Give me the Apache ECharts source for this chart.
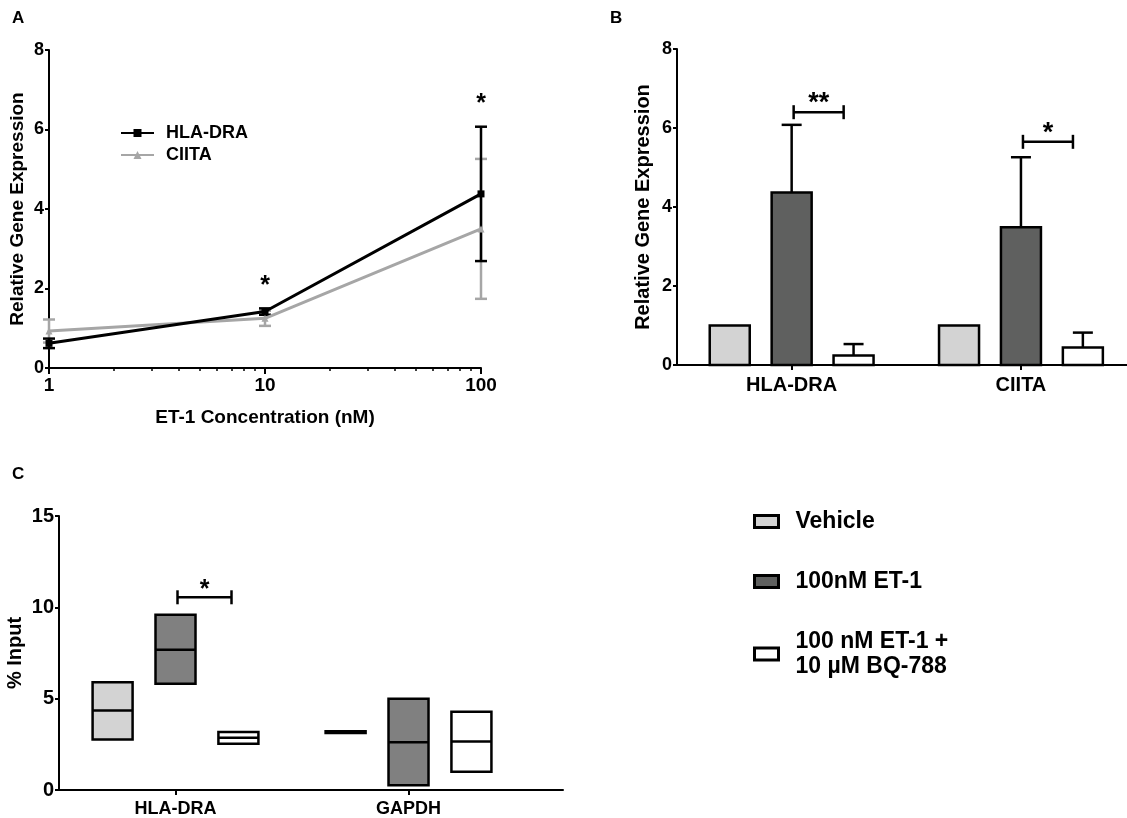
<!DOCTYPE html>
<html><head><meta charset="utf-8">
<script src="https://cdn.jsdelivr.net/npm/echarts@6/dist/echarts.min.js"></script>
<style>html,body{margin:0;padding:0;background:#fff}#c{width:1127px;height:818px}</style>
</head><body><div id="c"></div>
<script>
const FONT = '"Liberation Sans", Arial, Helvetica, sans-serif';

// ---------- Panel A: dose response ----------
const concentrations = [1, 10, 100];
const hlaLineMean = [0.62, 1.42, 4.38];
const hlaLineErr = [0.12, 0.08, 1.69];
const ciitaLineMean = [0.93, 1.25, 3.50];
const ciitaLineErr = [0.29, 0.19, 1.76];
const lineSig = ['', '*', '*'];
const yTicksA = [0, 2, 4, 6, 8];
const xMajorTicksA = [1, 10, 100];
const xMinorTicksA = [2, 3, 4, 5, 6, 7, 8, 9, 20, 30, 40, 50, 60, 70, 80, 90];

// ---------- Panel B: relative expression bars ----------
const geneCategories = ['HLA-DRA', 'CIITA'];
const treatments = ['Vehicle', '100nM ET-1', '100 nM ET-1 +\n10 µM BQ-788'];
const vehicleExpr = [1.0, 1.0];
const vehicleExprErr = [0, 0];
const et1Expr = [4.37, 3.49];
const et1ExprErr = [1.71, 1.77];
const bqExpr = [0.24, 0.44];
const bqExprErr = [0.29, 0.38];
const exprSigLabels = ['**', '*'];
const exprSigLevel = [6.4, 5.65];
const yTicksB = [0, 2, 4, 6, 8];

// ---------- Panel C: ChIP % input (min / mean / max) ----------
const chipCategories = ['HLA-DRA', 'GAPDH'];
const vehicleChipMin = [2.77, 3.12];
const vehicleChipMean = [4.35, 3.17];
const vehicleChipMax = [5.90, 3.22];
const et1ChipMin = [5.81, 0.26];
const et1ChipMean = [7.68, 2.62];
const et1ChipMax = [9.60, 4.99];
const bqChipMin = [2.53, 1.00];
const bqChipMean = [2.86, 2.66];
const bqChipMax = [3.17, 4.28];
const chipSigLabels = ['*', ''];
const chipSigLevel = [10.55, null];
const yTicksC = [0, 5, 10, 15];

const treatmentColors = ['#d3d3d3', '#5f605f', '#ffffff'];
const chipColors = ['#d3d3d3', '#808080', '#ffffff'];
const groupOffset = [-0.27, 0, 0.27];

const bold = { fontFamily: FONT, fontWeight: 'bold', color: '#000' };

function errRender(params, api) {
  const x = api.value(0), m = api.value(1), e = api.value(2);
  const t = api.coord([x, m + e]), b = api.coord([x, m - e]);
  const col = api.visual('color');
  const st = { stroke: col, lineWidth: 2.5 };
  return { type: 'group', children: [
    { type: 'line', shape: { x1: t[0], y1: t[1], x2: b[0], y2: b[1] }, style: st },
    { type: 'line', shape: { x1: t[0] - 6, y1: t[1], x2: t[0] + 6, y2: t[1] }, style: st },
    { type: 'line', shape: { x1: b[0] - 6, y1: b[1], x2: b[0] + 6, y2: b[1] }, style: st }
  ]};
}

function barRender(offset) {
  return function (params, api) {
    const x = api.value(0) + offset, v = api.value(1), e = api.value(2);
    const base = api.coord([x, 0]), top = api.coord([x, v]);
    const ch = [];
    if (e > 0) {
      const et = api.coord([x, v + e]);
      ch.push({ type: 'line', shape: { x1: top[0], y1: top[1], x2: et[0], y2: et[1] }, style: { stroke: '#000', lineWidth: 2.5 } });
      ch.push({ type: 'line', shape: { x1: et[0] - 10, y1: et[1], x2: et[0] + 10, y2: et[1] }, style: { stroke: '#000', lineWidth: 2.5 } });
    }
    ch.push({ type: 'rect', shape: { x: base[0] - 20, y: top[1], width: 40, height: base[1] - top[1] },
      style: { fill: api.visual('color'), stroke: '#000', lineWidth: 2.5 } });
    return { type: 'group', children: ch };
  };
}

function boxRender(offset) {
  return function (params, api) {
    const x = api.value(0) + offset;
    const lo = api.coord([x, api.value(1)]), mid = api.coord([x, api.value(2)]), hi = api.coord([x, api.value(3)]);
    return { type: 'group', children: [
      { type: 'rect', shape: { x: lo[0] - 20, y: hi[1], width: 40, height: lo[1] - hi[1] },
        style: { fill: api.visual('color'), stroke: '#000', lineWidth: 2.5 } },
      { type: 'line', shape: { x1: mid[0] - 20, y1: mid[1], x2: mid[0] + 20, y2: mid[1] }, style: { stroke: '#000', lineWidth: 2.5 } }
    ]};
  };
}

function sigRender(labels, spanPx, fontSize) {
  return function (params, api) {
    const i = params.dataIndex;
    const p = api.coord([api.value(0), api.value(1)]);
    const x1 = p[0] + 2, x2 = p[0] + 2 + spanPx, y = p[1];
    const st = { stroke: '#000', lineWidth: 2.5 };
    return { type: 'group', children: [
      { type: 'line', shape: { x1: x1, y1: y, x2: x2, y2: y }, style: st },
      { type: 'line', shape: { x1: x1, y1: y - 7, x2: x1, y2: y + 7 }, style: st },
      { type: 'line', shape: { x1: x2, y1: y - 7, x2: x2, y2: y + 7 }, style: st },
      { type: 'text', style: { x: (x1 + x2) / 2, y: y + 5, text: labels[i], fill: '#000',
        font: 'bold ' + fontSize + 'px ' + FONT, textAlign: 'center', textVerticalAlign: 'bottom' } }
    ]};
  };
}

function starRender(params, api) {
  const i = params.dataIndex;
  const p = api.coord([api.value(0), api.value(1) + api.value(2)]);
  return { type: 'text', style: { x: p[0], y: p[1] - 10, text: lineSig[i], fill: '#000',
    font: 'bold 25px ' + FONT, textAlign: 'center', textVerticalAlign: 'bottom' } };
}

const axisLineSt = { show: true, onZero: false, lineStyle: { color: '#000', width: 2 } };
const tickSt = { show: true, length: 4, lineStyle: { color: '#000', width: 2 } };

const option = {
  animation: false,
  backgroundColor: '#fff',
  title: [
    { text: 'A', left: 12, top: 10, padding: 0, textStyle: Object.assign({ fontSize: 17 }, bold) },
    { text: 'B', left: 610, top: 10, padding: 0, textStyle: Object.assign({ fontSize: 17 }, bold) },
    { text: 'C', left: 12, top: 466, padding: 0, textStyle: Object.assign({ fontSize: 17 }, bold) }
  ],
  legend: [
    { data: ['HLA-DRA', 'CIITA'], orient: 'vertical', left: 120, top: 123, padding: 0, itemWidth: 33, itemHeight: 10,
      itemGap: 2, textStyle: Object.assign({ fontSize: 18, lineHeight: 20, padding: [0, 0, 0, 7] }, bold) },
    { data: treatments.map((t, k) => ({ name: t, icon: 'rect',
        itemStyle: { color: treatmentColors[k], borderColor: '#000', borderWidth: 3 } })),
      orient: 'vertical', left: 753, top: 509, padding: 0, itemWidth: 24, itemHeight: 12, itemGap: 35,
      textStyle: Object.assign({ fontSize: 23, lineHeight: 25, padding: [0, 0, 0, 12] }, bold) }
  ],
  grid: [
    { left: 49, top: 50, width: 432, height: 318 },
    { left: 677, top: 49, width: 450, height: 316 },
    { left: 59, top: 516, width: 504, height: 275 }
  ],
  xAxis: [
    { gridIndex: 0, type: 'log', logBase: 10, min: 1, max: 100, position: 'bottom', axisLine: axisLineSt,
      axisTick: Object.assign({ customValues: xMajorTicksA }, tickSt, { length: 6 }),
      axisLabel: Object.assign({ customValues: xMajorTicksA, fontSize: 19, margin: 8 }, bold),
      splitLine: { show: false }, minorTick: { show: false },
      name: 'ET-1 Concentration (nM)', nameLocation: 'middle', nameGap: 40,
      nameTextStyle: Object.assign({ fontSize: 19 }, bold) },
    { gridIndex: 0, type: 'log', logBase: 10, min: 1, max: 100, position: 'bottom', offset: 0,
      axisLine: { show: false, onZero: false },
      axisTick: { show: true, customValues: xMinorTicksA, length: 3, lineStyle: { color: '#000', width: 1.5 } },
      axisLabel: { show: false }, splitLine: { show: false } },
    { gridIndex: 1, type: 'value', min: -0.5, max: 1.4625, position: 'bottom', axisLine: axisLineSt,
      axisTick: Object.assign({ customValues: [0, 1] }, tickSt, { length: 5 }),
      axisLabel: Object.assign({ customValues: [0, 1], fontSize: 20, margin: 10,
        formatter: v => geneCategories[Math.round(v)] }, bold),
      splitLine: { show: false } },
    { gridIndex: 2, type: 'value', min: -0.5, max: 1.663, position: 'bottom', axisLine: axisLineSt,
      axisTick: Object.assign({ customValues: [0, 1] }, tickSt, { length: 5 }),
      axisLabel: Object.assign({ customValues: [0, 1], fontSize: 18, margin: 10,
        formatter: v => chipCategories[Math.round(v)] }, bold),
      splitLine: { show: false } }
  ],
  yAxis: [
    { gridIndex: 0, type: 'value', min: 0, max: 8, interval: 2, position: 'left', axisLine: axisLineSt, axisTick: tickSt,
      axisLabel: Object.assign({ fontSize: 18, margin: 5 }, bold), splitLine: { show: false },
      name: 'Relative Gene Expression', nameLocation: 'middle', nameGap: 22,
      nameTextStyle: Object.assign({ fontSize: 19 }, bold) },
    { gridIndex: 1, type: 'value', min: 0, max: 8, interval: 2, position: 'left', axisLine: axisLineSt, axisTick: tickSt,
      axisLabel: Object.assign({ fontSize: 18, margin: 5 }, bold), splitLine: { show: false },
      name: 'Relative Gene Expression', nameLocation: 'middle', nameGap: 24,
      nameTextStyle: Object.assign({ fontSize: 20 }, bold) },
    { gridIndex: 2, type: 'value', min: 0, max: 15, interval: 5, position: 'left', axisLine: axisLineSt, axisTick: tickSt,
      axisLabel: Object.assign({ fontSize: 20, margin: 5 }, bold), splitLine: { show: false },
      name: '% Input', nameLocation: 'middle', nameGap: 34,
      nameTextStyle: Object.assign({ fontSize: 20 }, bold) }
  ],
  series: [
    // Panel A
    { name: 'CIITA', type: 'line', xAxisIndex: 0, yAxisIndex: 0, color: '#a6a6a6',
      data: concentrations.map((c, i) => [c, ciitaLineMean[i]]),
      symbol: 'triangle', symbolSize: 7, lineStyle: { width: 3, color: '#a6a6a6' }, itemStyle: { color: '#a6a6a6' } },
    { name: 'CIITA err', type: 'custom', xAxisIndex: 0, yAxisIndex: 0, color: '#a6a6a6', renderItem: errRender,
      data: concentrations.map((c, i) => [c, ciitaLineMean[i], ciitaLineErr[i]]), clip: false },
    { name: 'HLA-DRA', type: 'line', xAxisIndex: 0, yAxisIndex: 0, color: '#000',
      data: concentrations.map((c, i) => [c, hlaLineMean[i]]),
      symbol: 'rect', symbolSize: 7, lineStyle: { width: 3, color: '#000' }, itemStyle: { color: '#000' } },
    { name: 'HLA-DRA err', type: 'custom', xAxisIndex: 0, yAxisIndex: 0, color: '#000', renderItem: errRender,
      data: concentrations.map((c, i) => [c, hlaLineMean[i], hlaLineErr[i]]), clip: false },
    { name: 'sigA', type: 'custom', xAxisIndex: 0, yAxisIndex: 0, renderItem: starRender, clip: false,
      data: concentrations.map((c, i) => [c, hlaLineMean[i], hlaLineErr[i]]) },
    // Panel B
    { name: treatments[0], type: 'custom', xAxisIndex: 2, yAxisIndex: 1, color: treatmentColors[0],
      renderItem: barRender(groupOffset[0]), data: vehicleExpr.map((v, i) => [i, v, vehicleExprErr[i]]) },
    { name: treatments[1], type: 'custom', xAxisIndex: 2, yAxisIndex: 1, color: treatmentColors[1],
      renderItem: barRender(groupOffset[1]), data: et1Expr.map((v, i) => [i, v, et1ExprErr[i]]) },
    { name: treatments[2], type: 'custom', xAxisIndex: 2, yAxisIndex: 1, color: treatmentColors[2],
      renderItem: barRender(groupOffset[2]), data: bqExpr.map((v, i) => [i, v, bqExprErr[i]]) },
    { name: 'sigB', type: 'custom', xAxisIndex: 2, yAxisIndex: 1, renderItem: sigRender(exprSigLabels, 50, 27),
      data: exprSigLevel.map((v, i) => [i + groupOffset[1], v]) },
    // Panel C
    { name: treatments[0], type: 'custom', xAxisIndex: 3, yAxisIndex: 2, color: chipColors[0],
      renderItem: boxRender(groupOffset[0]),
      data: vehicleChipMean.map((v, i) => [i, vehicleChipMin[i], v, vehicleChipMax[i]]) },
    { name: treatments[1], type: 'custom', xAxisIndex: 3, yAxisIndex: 2, color: chipColors[1],
      renderItem: boxRender(groupOffset[1]),
      data: et1ChipMean.map((v, i) => [i, et1ChipMin[i], v, et1ChipMax[i]]) },
    { name: treatments[2], type: 'custom', xAxisIndex: 3, yAxisIndex: 2, color: chipColors[2],
      renderItem: boxRender(groupOffset[2]),
      data: bqChipMean.map((v, i) => [i, bqChipMin[i], v, bqChipMax[i]]) },
    { name: 'sigC', type: 'custom', xAxisIndex: 3, yAxisIndex: 2, renderItem: sigRender(chipSigLabels, 54, 25),
      data: chipSigLevel.map((v, i) => v === null ? null : [i + groupOffset[1], v]).filter(d => d !== null) }
  ]
};

const chart = echarts.init(document.getElementById('c'), null, { renderer: 'canvas' });
chart.setOption(option);
</script></body></html>
